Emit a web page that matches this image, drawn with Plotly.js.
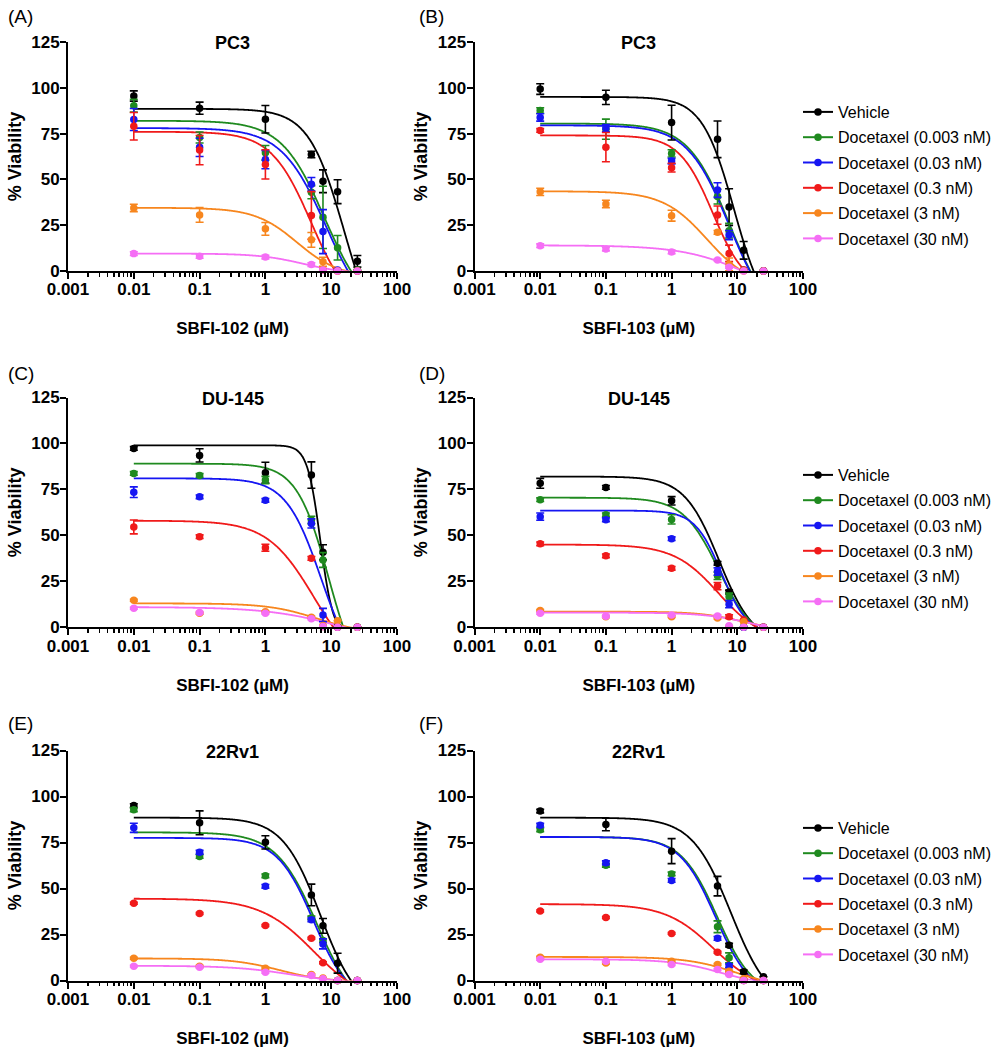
<!DOCTYPE html>
<html><head><meta charset="utf-8">
<script src="https://cdn.plot.ly/plotly-3.0.1.min.js"></script>
<style>body{margin:0;background:#fff}#chart{width:997px;height:1050px}</style>
</head><body><div id="chart"></div>
<script>
// ---------- shared values ----------
const doses = [0.01, 0.1, 1, 5, 7.5, 12.5, 25];
const seriesNames = ['Vehicle', 'Docetaxel (0.003 nM)', 'Docetaxel (0.03 nM)', 'Docetaxel (0.3 nM)', 'Docetaxel (3 nM)', 'Docetaxel (30 nM)'];
const seriesColors = ['#000000', '#1f8a1f', '#1616f2', '#f01a1a', '#f7861e', '#f56ef5'];
const xTickVals = [0.001, 0.01, 0.1, 1, 10, 100];
const xTickText = ['0.001', '0.01', '0.1', '1', '10', '100'];
const yTickVals = [0, 25, 50, 75, 100, 125];
const panelLetters = ['(A)', '(B)', '(C)', '(D)', '(E)', '(F)'];
const panelTitles = ['PC3', 'PC3', 'DU-145', 'DU-145', '22Rv1', '22Rv1'];
const xTitles = ['SBFI-102 (µM)', 'SBFI-103 (µM)', 'SBFI-102 (µM)', 'SBFI-103 (µM)', 'SBFI-102 (µM)', 'SBFI-103 (µM)'];

// ---------- mean % viability (rows = series, cols = doses) ----------
const A_mean = [
  [95.5, 88.9, 82.8, 63.6, 49.0, 43.3, 5.3],
  [90.2, 72.9, 64.5, 43.0, 29.3, 12.7, 0.5],
  [82.7, 67.5, 60.8, 47.3, 21.5, 0.5, 0],
  [79.0, 66.0, 58.2, 30.3, 0.5, 0, 0],
  [34.4, 30.6, 23.0, 17.0, 5.0, 0, 0],
  [9.5, 8.0, 7.6, 3.5, 0.5, 0, 0]
];
const A_err = [
  [2.8, 3.3, 7.5, 1.8, 6.2, 6.5, 3.2],
  [3.5, 3.0, 4.0, 3.6, 17, 6.7, 0],
  [6.0, 5.0, 5.0, 3.7, 12, 0, 0],
  [7.5, 8.0, 8.0, 13, 0, 0, 0],
  [2.0, 4.0, 3.5, 4.0, 2.5, 0, 0],
  [1, 1, 1, 1, 0, 0, 0]
];
const B_mean = [
  [99.3, 94.8, 81.0, 71.9, 34.9, 11.3, 0.2],
  [87.6, 77.4, 64.2, 40.6, 22.0, 0.5, 0],
  [83.8, 78.0, 60.0, 44.2, 19.6, 0.3, 0],
  [76.7, 67.6, 56.4, 30.5, 9.6, 0.5, 0],
  [43.2, 36.6, 30.2, 21.1, 3.6, 0, 0],
  [13.8, 12.0, 10.4, 6.0, 2.0, 0, 0]
];
const B_err = [
  [2.9, 3.9, 9.5, 10, 10, 4.8, 0],
  [1.5, 5.5, 2.0, 4.0, 4.0, 0, 0],
  [2.0, 2.0, 1.5, 4.0, 2.5, 0, 0],
  [1.0, 8.0, 2.4, 5.0, 4.5, 0, 0],
  [2.0, 2.0, 3.0, 1.0, 3.5, 0, 0],
  [1, 1, 1, 0.5, 0.5, 0, 0]
];
const C_mean = [
  [97.3, 93.5, 84.1, 82.8, 40.8, 0.4, 0],
  [83.7, 82.6, 80.1, 58.4, 36.6, 0.3, 0],
  [73.5, 71.0, 69.1, 56.5, 6.7, 0, 0],
  [54.6, 49.3, 43.3, 37.5, 0.4, 0, 0],
  [14.7, 7.6, 8.5, 5.5, 1.0, 3.6, 0],
  [10.4, 8.0, 7.6, 4.6, 0.5, 0, 0]
];
const C_err = [
  [1, 3.6, 5.7, 7.2, 4.1, 0, 0],
  [1, 1, 2, 2, 4, 0, 0],
  [2.9, 1, 1, 2.5, 3.6, 0, 0],
  [3.8, 1, 1.9, 1, 0, 0, 0],
  [0.5, 0.5, 0.5, 0.5, 0, 0, 0],
  [0.5, 0.5, 0.5, 0.5, 0, 0, 0]
];
const D_mean = [
  [78.3, 76.1, 68.8, 34.8, 19.2, 0, 0],
  [69.4, 61.2, 58.7, 28.0, 16.6, 0, 0],
  [60.2, 58.5, 48.2, 30.3, 12.6, 0, 0],
  [45.4, 38.9, 32.1, 22.4, 5.8, 4.0, 0],
  [9.1, 5.8, 5.8, 5.0, 0.5, 3.0, 0],
  [7.6, 6.0, 6.7, 6.1, 0.9, 0, 0]
];
const D_err = [
  [2.7, 1, 2.3, 1, 1, 0, 0],
  [1, 1, 2.5, 2, 2, 0, 0],
  [2, 1, 1, 2, 2, 0, 0],
  [1, 1, 1, 2, 1, 0, 0],
  [0.5, 0.5, 0.5, 0.5, 0, 0, 0],
  [0.5, 0.5, 0.5, 0.5, 0, 0, 0]
];
const E_mean = [
  [95.1, 85.7, 75.1, 46.5, 29.7, 9.4, 0],
  [92.8, 67.4, 56.9, 34.0, 21.7, 0, 0],
  [83.0, 69.7, 51.2, 33.0, 19.9, 0, 0],
  [42.0, 36.4, 29.9, 23.0, 9.6, 0, 0],
  [12.1, 7.8, 6.7, 3.2, 1.4, 0, 0],
  [7.8, 7.2, 4.5, 2.7, 0.9, 0, 0]
];
const E_err = [
  [1, 6.5, 3.6, 5.9, 4, 5.4, 0],
  [1, 1, 1, 1, 1, 0, 0],
  [2.5, 1, 1, 1, 2.7, 0, 0],
  [0.5, 0.5, 0.5, 0.5, 0.5, 0, 0],
  [0.5, 0.5, 0.5, 0.5, 0, 0, 0],
  [0.5, 0.5, 0.5, 0.5, 0, 0, 0]
];
const F_mean = [
  [92.1, 84.8, 70.3, 51.3, 19.2, 4.7, 2.0],
  [81.9, 62.6, 57.9, 29.2, 12.3, 0, 0],
  [84.4, 64.0, 54.4, 22.9, 8.0, 0.2, 0],
  [37.8, 34.2, 25.6, 15.4, 4.0, 0, 0],
  [12.7, 9.5, 10.4, 8.7, 5.0, 1.0, 0],
  [11.6, 10.5, 8.7, 6.0, 3.3, 0, 0]
];
const F_err = [
  [1, 3.4, 6.8, 5.3, 1, 1, 0],
  [1, 1, 1, 3.2, 2.7, 0, 0],
  [1, 1, 1, 1, 1, 0, 0],
  [0.5, 0.5, 0.5, 0.5, 0.5, 0, 0],
  [0.5, 0.5, 0.5, 0.5, 0.5, 0, 0],
  [0.5, 0.5, 0.5, 0.5, 0.5, 0, 0]
];

// ---------- fitted curves: [top, x at 80% of top, x at 50% of top, x where curve reaches 0] ----------
const A_fit = [[88.5, 4.9, 10.2, 24], [82, 2.2, 5.6, 20], [78, 2.1, 5.4, 18], [76, 1.5, 3.56, 11.5], [34.5, 1.0, 2.66, 17], [9.5, 1.1, 3.0, 15]];
const B_fit = [[95, 3.45, 6.9, 17.7], [80.5, 2.1, 5.1, 15.8], [79.5, 2.05, 5.0, 15.5], [74, 1.7, 3.65, 13.2], [43.5, 1.0, 2.66, 11.8], [14, 1.06, 3.65, 12]];
const C_fit = [[99, 4.93, 6.7, 13.6], [89, 3.36, 6.6, 15.3], [81, 2.42, 5.1, 13.6], [58, 1.24, 3.28, 10.8], [13, 1.48, 4.25, 19], [11, 0.9, 3.7, 16]];
const D_fit = [[82, 2.1, 4.67, 20], [70.5, 2.03, 4.6, 20], [63.5, 2.9, 5.4, 20], [45, 1.51, 4.1, 20], [8.5, 3.45, 8.8, 35], [8, 3.45, 9.4, 30]];
const E_fit = [[88.5, 2.37, 5.5, 20], [80.5, 1.87, 4.6, 17], [77.5, 1.99, 4.5, 17], [44.5, 1.12, 3.55, 17], [12, 0.5, 1.5, 15], [8, 0.5, 1.8, 13]];
const F_fit = [[88.5, 2.72, 6.56, 27], [78, 1.89, 4.35, 20], [78, 1.8, 4.1, 18], [41.5, 1.17, 3.44, 20], [12.8, 2.15, 6.2, 25], [11.5, 1.35, 3.9, 18]];

const panels = [
  {mean: A_mean, err: A_err, fit: A_fit, col: 0, row: 0},
  {mean: B_mean, err: B_err, fit: B_fit, col: 1, row: 0},
  {mean: C_mean, err: C_err, fit: C_fit, col: 0, row: 1},
  {mean: D_mean, err: D_err, fit: D_fit, col: 1, row: 1},
  {mean: E_mean, err: E_err, fit: E_fit, col: 0, row: 2},
  {mean: F_mean, err: F_err, fit: F_fit, col: 1, row: 2}
];

// ---------- geometry ----------
const W = 997, H = 1050;
const colPx = [[68, 397], [474.5, 803]];
const rowPx = [[42, 271], [397.5, 627.3], [750.5, 980.5]];
const FONT = '"Liberation Sans", Arial, Helvetica, sans-serif';

// four-parameter logistic from the read anchors
function solveFit(f) {
  const [T, xs, xh, x0] = f;
  const R1 = Math.log(xh / xs), R2 = Math.log(x0 / xh), target = R2 / R1;
  const g = b => {
    const q8 = 0.2 / (0.8 + b), q5 = 0.5 / (0.5 + b), q0 = 1 / b;
    return Math.log(q0 / q5) / Math.log(q5 / q8);
  };
  let lo = 1e-4, hi = 1e3, b;
  if (target <= g(hi)) b = hi;
  else if (target >= g(lo)) b = lo;
  else {
    for (let i = 0; i < 80; i++) {
      const mid = Math.sqrt(lo * hi);
      if (g(mid) > target) lo = mid; else hi = mid;
    }
    b = Math.sqrt(lo * hi);
  }
  const q8 = 0.2 / (0.8 + b), q5 = 0.5 / (0.5 + b);
  const h = Math.log(q5 / q8) / R1;
  const C = xh / Math.pow(q5, 1 / h);
  return x => T * (-b + (1 + b) / (1 + Math.pow(x / C, h)));
}

const minorVals = [];
for (let k = -3; k <= 1; k++) for (let d = 2; d <= 9; d++) minorVals.push(d * Math.pow(10, k));

const curveX = [];
for (let i = 0; i <= 240; i++) curveX.push(Math.pow(10, Math.log10(doses[0]) + i * (Math.log10(doses[doses.length - 1]) - Math.log10(doses[0])) / 240));

const traces = [];
const layout = {
  width: W, height: H,
  margin: {l: 0, r: 0, t: 0, b: 0},
  paper_bgcolor: '#fff', plot_bgcolor: '#fff',
  font: {family: FONT, color: '#000'},
  showlegend: true,
  annotations: []
};

const legendIds = {1: 'legend', 3: 'legend2', 5: 'legend3'};

panels.forEach((p, pi) => {
  const n = pi === 0 ? '' : String(pi + 1);
  const xa = 'x' + n, ya = 'y' + n;
  const xd = [colPx[p.col][0] / W, colPx[p.col][1] / W];
  const yd = [1 - rowPx[p.row][1] / H, 1 - rowPx[p.row][0] / H];

  layout['xaxis' + n] = {
    type: 'log', range: [-3, 2], domain: xd, anchor: ya,
    tickmode: 'array', tickvals: xTickVals, ticktext: xTickText,
    ticks: 'outside', ticklen: 6, tickwidth: 2, tickcolor: '#000',
    ticklabelstandoff: -4,
    showline: true, linewidth: 2, linecolor: '#000',
    showgrid: false, zeroline: false, fixedrange: true,
    tickfont: {family: FONT, size: 17, weight: 'bold', color: '#000'},
    minor: {tickmode: 'array', tickvals: minorVals, ticks: 'outside', ticklen: 3.5, tickwidth: 1.5, tickcolor: '#000', showgrid: false},
    title: {text: xTitles[pi], font: {family: FONT, size: 17, weight: 'bold', color: '#000'}, standoff: 24}
  };
  layout['yaxis' + n] = {
    range: [0, 125], domain: yd, anchor: xa,
    tickmode: 'array', tickvals: yTickVals,
    ticks: 'outside', ticklen: 6, tickwidth: 2, tickcolor: '#000',
    ticklabelstandoff: -3,
    showline: true, linewidth: 2, linecolor: '#000',
    showgrid: false, zeroline: false, fixedrange: true,
    tickfont: {family: FONT, size: 17, weight: 'bold', color: '#000'},
    title: {text: '% Viability', font: {family: FONT, size: 18, weight: 'bold', color: '#000'}, standoff: 5}
  };

  // panel title and letter
  layout.annotations.push({
    text: panelTitles[pi], xref: 'paper', yref: 'paper',
    x: (xd[0] + xd[1]) / 2, y: 1 - (rowPx[p.row][0] + 1) / H,
    xanchor: 'center', yanchor: 'middle', showarrow: false,
    font: {family: FONT, size: 18, weight: 'bold', color: '#000'}
  });
  const letterY = [16.5, 373, 723][p.row];
  layout.annotations.push({
    text: panelLetters[pi], xref: 'paper', yref: 'paper',
    x: (p.col === 0 ? 6 : 417) / W, y: 1 - letterY / H,
    xanchor: 'left', yanchor: 'middle', showarrow: false,
    font: {family: FONT, size: 19, color: '#000'}
  });

  // curves
  p.fit.forEach((f, si) => {
    const fn = solveFit(f);
    traces.push({
      type: 'scatter', mode: 'lines', x: curveX, y: curveX.map(fn),
      xaxis: xa, yaxis: ya, showlegend: false, hoverinfo: 'skip',
      line: {color: seriesColors[si], width: 1.8, shape: 'spline'}
    });
  });
  // points
  p.mean.forEach((m, si) => {
    traces.push({
      type: 'scatter', mode: 'markers', x: doses, y: m,
      xaxis: xa, yaxis: ya, showlegend: false, cliponaxis: false,
      name: seriesNames[si],
      marker: {color: seriesColors[si], size: 7.5, symbol: 'circle'},
      error_y: {type: 'data', array: p.err[si], visible: true, color: seriesColors[si], thickness: 1.6, width: 4}
    });
  });
  // legend entries (right column)
  if (legendIds[pi]) {
    seriesNames.forEach((nm, si) => {
      traces.push({
        type: 'scatter', mode: 'lines+markers', x: [null], y: [null],
        xaxis: xa, yaxis: ya, name: nm, legend: legendIds[pi],
        legendgroup: 'g' + pi + '_' + si, showlegend: true, hoverinfo: 'skip',
        line: {color: seriesColors[si], width: 2},
        marker: {color: seriesColors[si], size: 7.5}
      });
    });
  }
});

const legendTops = [95, 458, 811];
['legend', 'legend2', 'legend3'].forEach((id, i) => {
  layout[id] = {
    x: 798 / W, xanchor: 'left', y: 1 - legendTops[i] / H, yanchor: 'top',
    bgcolor: 'rgba(0,0,0,0)', borderwidth: 0,
    font: {family: FONT, size: 16, color: '#000'},
    tracegroupgap: 1.5, traceorder: 'grouped', itemclick: false, itemdoubleclick: false
  };
});

Plotly.newPlot('chart', traces, layout, {displayModeBar: false, staticPlot: true});
</script>
</body></html>
